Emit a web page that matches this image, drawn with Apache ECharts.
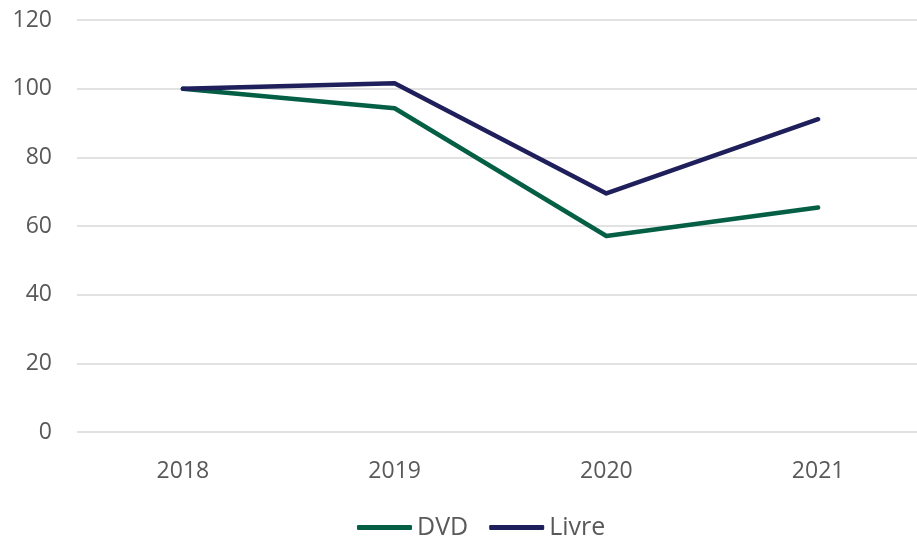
<!DOCTYPE html>
<html><head><meta charset="utf-8">
<script src="https://cdn.jsdelivr.net/npm/echarts@6/dist/echarts.min.js"></script>
<style>html,body{margin:0;padding:0;background:#fff;overflow:hidden}#c{width:924px;height:537px}</style>
</head><body><div id="c"></div>
<script>
const categories = ['2018', '2019', '2020', '2021'];
const dvd = [100, 94.3, 57.1, 65.4];
const livre = [100, 101.6, 69.5, 91.1];
const yTicks = { min: 0, max: 120, interval: 20 };

const chart = echarts.init(document.getElementById('c'));
const font = 'Open Sans';
chart.setOption({
  animation: false,
  grid: { left: 77, top: 20, right: 0, height: 412 },
  legend: {
    top: 510, left: 352,
    itemWidth: 55, itemHeight: 5, itemGap: 21,
    icon: 'roundRect',
    textStyle: { fontFamily: font, fontSize: 25, color: '#595959' },
    data: ['DVD', 'Livre']
  },
  xAxis: {
    type: 'category', data: categories, boundaryGap: true,
    axisLine: { show: false }, axisTick: { show: false },
    axisLabel: { fontFamily: font, fontSize: 23, color: '#595959', margin: 28 }
  },
  yAxis: {
    type: 'value', min: yTicks.min, max: yTicks.max, interval: yTicks.interval,
    axisLine: { show: false }, axisTick: { show: false },
    axisLabel: { fontFamily: font, fontSize: 23, color: '#595959', margin: 25 },
    splitLine: { lineStyle: { color: '#d9d9d9', width: 1.5 } }
  },
  series: [
    { name: 'DVD', type: 'line', data: dvd, showSymbol: false, symbol: 'none',
      itemStyle: { color: '#045f45' },
      lineStyle: { color: '#045f45', width: 4.5, cap: 'round', join: 'round' } },
    { name: 'Livre', type: 'line', data: livre, showSymbol: false, symbol: 'none',
      itemStyle: { color: '#1f1f5c' },
      lineStyle: { color: '#1f1f5c', width: 4.5, cap: 'round', join: 'round' } }
  ]
});
</script></body></html>
